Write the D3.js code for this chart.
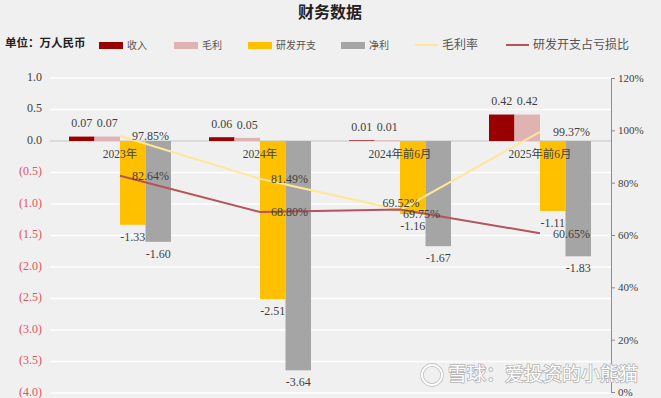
<!DOCTYPE html>
<html>
<head>
<meta charset="utf-8">
<script src="https://cdn.jsdelivr.net/npm/d3@7"></script>
<style>
  html, body { margin: 0; padding: 0; background: #f0f0f0; }
  svg { display: block; }
</style>
</head>
<body>
<div id="chart"></div>
<script>
const width = 661;
const height = 398;

// data
const categories = ['2023年', '2024年', '2024年前6月', '2025年前6月'];
const revenue = [0.07, 0.06, 0.01, 0.42];
const grossProfit = [0.07, 0.05, 0.01, 0.42];
const rdExpense = [-1.33, -2.51, -1.16, -1.11];
const netProfit = [-1.60, -3.64, -1.67, -1.83];
const grossMargin = [97.85, 81.49, 69.52, 99.37];
const rdLossRatio = [82.64, 68.80, 69.75, 60.65];
const leftTicks = [1.0, 0.5, 0.0, -0.5, -1.0, -1.5, -2.0, -2.5, -3.0, -3.5, -4.0];
const rightTicks = [0, 20, 40, 60, 80, 100, 120];

const barSeries = [
  { name: '收入', values: revenue, color: '#990000' },
  { name: '毛利', values: grossProfit, color: '#e0b3b3' },
  { name: '研发开支', values: rdExpense, color: '#ffc000' },
  { name: '净利', values: netProfit, color: '#a5a5a5' },
];
const lineSeries = [
  { name: '毛利率', values: grossMargin, color: '#ffe699',
    offsets: [[12, 1, 'start'], [11, 1, 'start'], [1, -6, 'middle'], [13, 1, 'start']] },
  { name: '研发开支占亏损比', values: rdLossRatio, color: '#b5545a',
    offsets: [[12, 1, 'start'], [11, 1, 'start'], [3, 6, 'start'], [13, 2, 'start']] },
];

const numFont = '"Liberation Serif", "Noto Sans CJK SC", serif';
const textColor = '#404040';
const fmt = d3.formatLocale({ decimal: '.', thousands: ',', grouping: [3], currency: ['', ''], minus: '-' });
const fmt1 = fmt.format('.1f');
const fmt2 = fmt.format('.2f');

const svg = d3.select('#chart').append('svg')
  .attr('width', width).attr('height', height)
  .style('background', '#f0f0f0');

const plotLeft = 50, plotRight = 611;
const y = d3.scaleLinear().domain([-4, 1]).range([393, 78]);
const yR = d3.scaleLinear().domain([0, 120]).range([392, 78]);
const x0 = d3.scaleBand().domain(categories).range([50, 610])
  .paddingInner(38 / 140).paddingOuter(19 / 140);
const x1 = d3.scaleBand().domain(barSeries.map((s) => s.name)).range([0, x0.bandwidth()]);
const cx = (i) => x0(categories[i]) + x0.bandwidth() / 2;

// title + unit
svg.append('text').attr('x', 330).attr('y', 18)
  .attr('text-anchor', 'middle')
  .style('font-family', '"Noto Sans CJK SC"').style('font-weight', 'bold')
  .style('font-size', '16px').style('fill', '#222').text('财务数据');
svg.append('text').attr('x', 5).attr('y', 44)
  .attr('dominant-baseline', 'middle')
  .style('font-family', '"Noto Sans CJK SC"').style('font-weight', 'bold')
  .style('font-size', '11.5px').style('fill', '#222').text('单位：万人民币');

// legend
const legendX = [99, 174, 248, 341, 415, 506];
barSeries.forEach((s, i) => {
  svg.append('rect').attr('x', legendX[i]).attr('y', 42).attr('width', 24).attr('height', 7)
    .attr('fill', s.color);
  svg.append('text').attr('x', legendX[i] + 28).attr('y', 46)
    .attr('dominant-baseline', 'middle')
    .style('font-family', '"Noto Sans CJK SC"').style('font-size', '10px')
    .style('fill', '#555').text(s.name);
});
lineSeries.forEach((s, i) => {
  const lx = legendX[i + 4];
  svg.append('line').attr('x1', lx).attr('x2', lx + 23).attr('y1', 45).attr('y2', 45)
    .attr('stroke', s.color).attr('stroke-width', 2);
  svg.append('text').attr('x', lx + 27).attr('y', 45.5)
    .attr('dominant-baseline', 'middle')
    .style('font-family', '"Noto Sans CJK SC"').style('font-size', '12px')
    .style('fill', '#555').text(s.name);
});

// gridlines
svg.append('g').selectAll('line').data(leftTicks).enter().append('line')
  .attr('x1', plotLeft).attr('x2', plotRight)
  .attr('y1', (d) => y(d)).attr('y2', (d) => y(d))
  .attr('stroke', (d) => d === 0 ? '#d4d4d4' : '#ffffff')
  .attr('stroke-width', 1.5);

// left axis labels
svg.append('g').selectAll('text').data(leftTicks).enter().append('text')
  .attr('x', 42).attr('y', (d) => y(d))
  .attr('text-anchor', 'end').attr('dominant-baseline', 'middle')
  .style('font-family', numFont).style('font-size', '12px')
  .style('fill', (d) => d < 0 ? '#e8505a' : textColor)
  .text((d) => d < 0 ? '(' + fmt1(-d) + ')' : fmt1(d));

// right axis
const rAxis = d3.axisRight(yR).tickValues(rightTicks).tickSize(4).tickFormat((d) => d + '%');
const rg = svg.append('g').attr('transform', `translate(${plotRight},0)`).call(rAxis);
rg.select('.domain').attr('stroke', '#8c8c8c');
rg.selectAll('.tick line').attr('stroke', '#8c8c8c');
rg.selectAll('.tick text').attr('x', 7)
  .style('font-family', numFont).style('font-size', '11px').style('fill', textColor);

// bars
const groups = svg.append('g').selectAll('g').data(categories).enter().append('g')
  .attr('transform', (d) => `translate(${x0(d)},0)`);
groups.selectAll('rect')
  .data((d, i) => barSeries.map((s) => ({ name: s.name, color: s.color, v: s.values[i] })))
  .enter().append('rect')
  .attr('x', (d) => x1(d.name))
  .attr('width', x1.bandwidth())
  .attr('y', (d) => y(Math.max(0, d.v)))
  .attr('height', (d) => Math.abs(y(d.v) - y(0)))
  .attr('fill', (d) => d.color);

// category labels
svg.append('g').selectAll('text').data(categories).enter().append('text')
  .attr('x', (d, i) => cx(i)).attr('y', 155)
  .attr('text-anchor', 'middle').attr('dominant-baseline', 'middle')
  .style('font-family', numFont).style('font-size', '11.5px')
  .style('fill', textColor).text((d) => d);

// lines
const line = d3.line().x((d, i) => cx(i)).y((d) => yR(d));
lineSeries.forEach((s) => {
  svg.append('path').datum(s.values)
    .attr('d', line).attr('fill', 'none')
    .attr('stroke', s.color).attr('stroke-width', 2);
});

// bar value labels
groups.selectAll('text.val')
  .data((d, i) => barSeries.map((s) => ({ name: s.name, v: s.values[i] })))
  .enter().append('text').attr('class', 'val')
  .attr('x', (d) => x1(d.name) + x1.bandwidth() / 2)
  .attr('y', (d) => d.v >= 0 ? y(d.v) - 12 : y(d.v) + 13)
  .attr('text-anchor', 'middle').attr('dominant-baseline', 'middle')
  .style('font-family', numFont).style('font-size', '12px')
  .style('fill', textColor).text((d) => fmt2(d.v));

// line value labels
lineSeries.forEach((s) => {
  svg.append('g').selectAll('text').data(s.values).enter().append('text')
    .attr('x', (d, i) => cx(i) + s.offsets[i][0])
    .attr('y', (d, i) => yR(d) + s.offsets[i][1])
    .attr('text-anchor', (d, i) => s.offsets[i][2])
    .attr('dominant-baseline', 'middle')
    .style('font-family', numFont).style('font-size', '12px')
    .style('fill', textColor).text((d) => fmt2(d) + '%');
});

// watermark
const wm = svg.append('g');
wm.append('circle').attr('cx', 432).attr('cy', 375).attr('r', 10)
  .attr('fill', 'none').attr('stroke', '#b8b8b8').attr('stroke-width', 3.5);
wm.append('circle').attr('cx', 432).attr('cy', 375).attr('r', 10)
  .attr('fill', 'none').attr('stroke', '#ffffff').attr('stroke-width', 2);
wm.append('text').attr('x', 448).attr('y', 376)
  .attr('dominant-baseline', 'middle')
  .style('font-family', '"Noto Sans CJK SC"').style('font-size', '19px')
  .style('fill', '#ffffff').style('stroke', '#b4b4b4').style('stroke-width', 1.6)
  .style('paint-order', 'stroke')
  .text('雪球：爱投资的小熊猫');
</script>
</body>
</html>
